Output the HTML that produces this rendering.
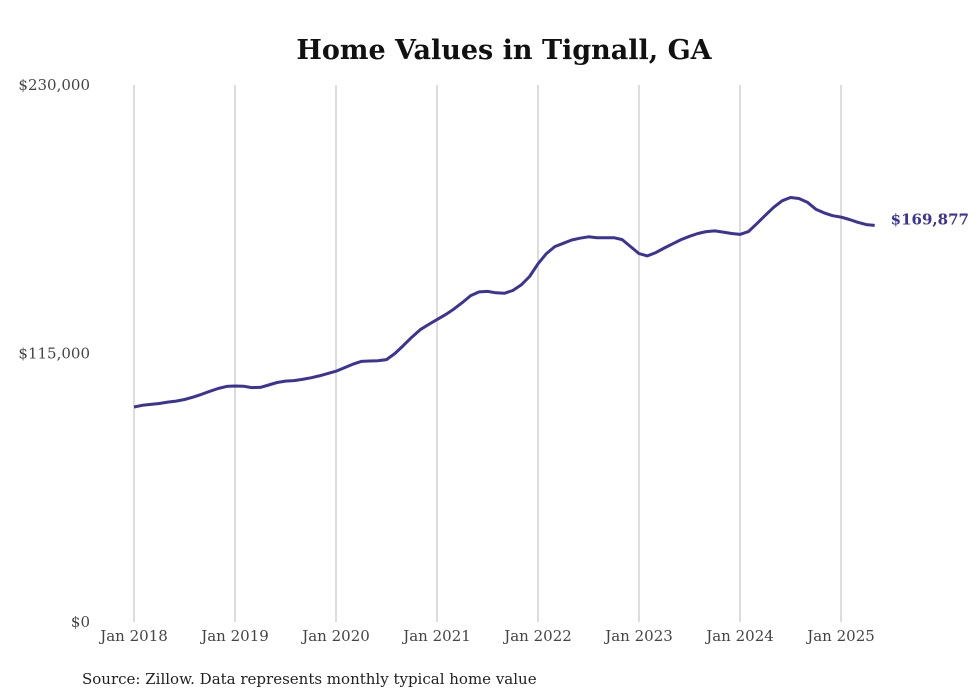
<!DOCTYPE html>
<html><head><meta charset="utf-8"><style>
html,body{margin:0;padding:0;background:#fff;}
svg{display:block;font-family:"DejaVu Serif","Liberation Serif",serif;}
</style></head><body>
<svg width="980" height="699" viewBox="0 0 980 699">
<text x="504" y="59" text-anchor="middle" font-size="27" font-weight="bold" fill="#111">Home Values in Tignall, GA</text>
<g id="grid"></g>
<g id="yaxis"></g>
<g id="xaxis"></g>
<path id="line" fill="none" stroke="#3b3495" stroke-width="3" stroke-linejoin="round"/>
<text id="endlabel" font-size="15" font-weight="bold" fill="#3b3495"></text>
<text x="82" y="684" font-size="15" fill="#222">Source: Zillow. Data represents monthly typical home value</text>
</svg>
<script>
const yTicks=[0,115000,230000];
const yTickLabels=["$0","$115,000","$230,000"];
const xTickYears=[2018,2019,2020,2021,2022,2023,2024,2025];
const xTickLabels=["Jan 2018","Jan 2019","Jan 2020","Jan 2021","Jan 2022","Jan 2023","Jan 2024","Jan 2025"];
const startYear=2018;
const values=[
92.1,92.8,93.2,93.6,94.2,94.6,95.3,96.3,97.5,98.8,100.0,100.9,
101.1,101.0,100.4,100.5,101.5,102.6,103.2,103.4,103.9,104.6,105.4,106.4,
107.4,108.9,110.4,111.6,111.8,111.9,112.4,115.0,118.4,122.0,125.2,127.4,
129.5,131.6,134.0,136.8,139.8,141.4,141.6,141.0,140.8,142.0,144.4,148.0,
153.4,157.8,160.8,162.2,163.6,164.4,165.0,164.6,164.6,164.6,163.8,160.8,
157.8,156.8,158.2,160.2,162.0,163.8,165.2,166.4,167.2,167.5,167.0,166.4,
166.0,167.2,170.6,174.2,177.6,180.4,181.8,181.4,179.8,176.8,175.2,174.0,
173.4,172.4,171.2,170.2,169.877];
const endLabel="$169,877";

const NS="http://www.w3.org/2000/svg";
const x0=134,pxPerMonth=101/12,yBase=622,yTop=85,yMax=230000;
const xScale=m=>x0+m*pxPerMonth;
const yScale=v=>yBase-(v/yMax)*(yBase-yTop);
function mk(tag,attrs,parent){const e=document.createElementNS(NS,tag);for(const k in attrs)e.setAttribute(k,attrs[k]);parent.appendChild(e);return e;}
const grid=document.getElementById('grid'),ya=document.getElementById('yaxis'),xa=document.getElementById('xaxis');
xTickYears.forEach((yr,i)=>{
  const x=xScale((yr-startYear)*12);
  const l=mk('line',{x1:x,x2:x,y1:yTop,y2:yBase,stroke:'#bbb','stroke-width':1},grid);
  
  
  const t=mk('text',{x:x,y:641,'text-anchor':'middle','font-size':15,fill:'#444'},xa);
  t.textContent=xTickLabels[i];
  
  
});
yTicks.forEach((v,i)=>{
  const t=mk('text',{x:90,y:yScale(v)+5,'text-anchor':'end','font-size':15,fill:'#444'},ya);
  t.textContent=yTickLabels[i];
  
  
});
let d='';
values.forEach((v,i)=>{d+=(i?'L':'M')+xScale(i).toFixed(1)+','+yScale(v*1000).toFixed(1);});
document.getElementById('line').setAttribute('d',d);
const last=values.length-1;
const el=document.getElementById('endlabel');
el.setAttribute('x',xScale(last)+16);
el.setAttribute('y',yScale(values[last]*1000)-1);
el.textContent=endLabel;
</script>
</body></html>
